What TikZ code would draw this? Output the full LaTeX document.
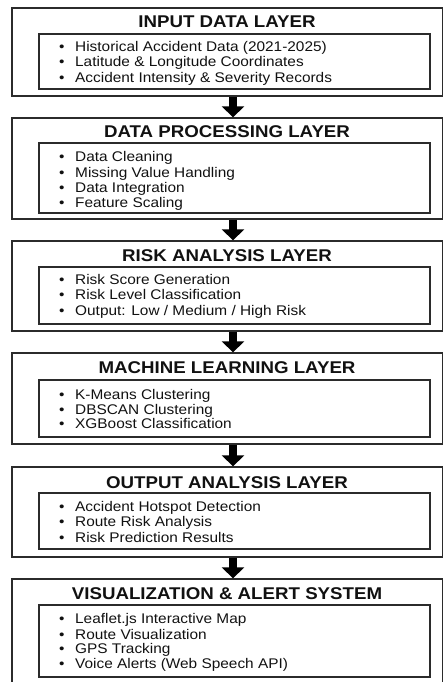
\documentclass[tikz,border=0pt]{standalone}
\usepackage{fontspec}
\setmainfont[FakeStretch=1.1]{Liberation Sans}
\usetikzlibrary{arrows.meta}
\definecolor{linegray}{HTML}{2B2B2B}
\definecolor{textblack}{HTML}{111111}
\tikzset{
  outerbox/.style={draw=linegray, line width=1.3pt, minimum width=431pt, inner sep=0pt},
  innerbox/.style={draw=linegray, line width=1.3pt, minimum width=391pt, inner sep=0pt},
  layertitle/.style={font=\bfseries\fontsize{17}{20}\selectfont, text=textblack, inner sep=0pt, anchor=base},
  item/.style={font=\fontsize{14}{16}\selectfont, text=textblack, inner sep=0pt, anchor=base west},
  flow/.style={-{Triangle[width=22pt,length=11pt]}, line width=8pt, draw=black}
}
\newcommand\bul[1]{\makebox[16pt][l]{\raisebox{0pt}{•}}#1}
\begin{document}
\begin{tikzpicture}[x=1pt,y=-1pt]
\useasboundingbox (0,0) rectangle (442,682);
% Box 1
\node[outerbox, minimum height=88pt] (o1) at (227.5,52) {};
\node[innerbox, minimum height=55pt] (n1) at (234.5,61.5) {};
\node[layertitle] (t1) at (227,28) {INPUT DATA LAYER};
\node[item] (i11) at (59,52) {\bul{Historical Accident Data (2021-2025)}};
\node[item] (i12) at (59,67) {\bul{Latitude \& Longitude Coordinates}};
\node[item] (i13) at (59,83) {\bul{Accident Intensity \& Severity Records}};
% Box 2
\node[outerbox, minimum height=101pt] (o2) at (227.5,168.5) {};
\node[innerbox, minimum height=70pt] (n2) at (234.5,178) {};
\node[layertitle] (t2) at (227,138) {DATA PROCESSING LAYER};
\node[item] (i21) at (59,161) {\bul{Data Cleaning}};
\node[item] (i22) at (59,177) {\bul{Missing Value Handling}};
\node[item] (i23) at (59,192) {\bul{Data Integration}};
\node[item] (i24) at (59,207) {\bul{Feature Scaling}};
% Box 3
\node[outerbox, minimum height=90pt] (o3) at (227.5,286) {};
\node[innerbox, minimum height=57pt] (n3) at (234.5,295.5) {};
\node[layertitle] (t3) at (227,261) {RISK ANALYSIS LAYER};
\node[item] (i31) at (59,284) {\bul{Risk Score Generation}};
\node[item] (i32) at (59,299) {\bul{Risk Level Classification}};
\node[item] (i33) at (59,315) {\bul{Output: Low / Medium / High Risk}};
% Box 4
\node[outerbox, minimum height=91pt] (o4) at (227.5,398.5) {};
\node[innerbox, minimum height=57pt] (n4) at (234.5,408.5) {};
\node[layertitle] (t4) at (227,373) {MACHINE LEARNING LAYER};
\node[item] (i41) at (59,399) {\bul{K-Means Clustering}};
\node[item] (i42) at (59,414) {\bul{DBSCAN Clustering}};
\node[item] (i43) at (59,428) {\bul{XGBoost Classification}};
% Box 5
\node[outerbox, minimum height=90pt] (o5) at (227.5,512) {};
\node[innerbox, minimum height=56pt] (n5) at (234.5,521) {};
\node[layertitle] (t5) at (227,488) {OUTPUT ANALYSIS LAYER};
\node[item] (i51) at (59,511) {\bul{Accident Hotspot Detection}};
\node[item] (i52) at (59,526) {\bul{Route Risk Analysis}};
\node[item] (i53) at (59,542) {\bul{Risk Prediction Results}};
% Box 6
\node[outerbox, minimum height=111pt] (o6) at (227.5,634.5) {};
\node[innerbox, minimum height=72pt] (n6) at (234.5,641) {};
\node[layertitle] (t6) at (227,599) {VISUALIZATION \& ALERT SYSTEM};
\node[item] (i61) at (59,623) {\bul{Leaflet.js Interactive Map}};
\node[item] (i62) at (59,639) {\bul{Route Visualization}};
\node[item] (i63) at (59,653) {\bul{GPS Tracking}};
\node[item] (i64) at (59,668) {\bul{Voice Alerts (Web Speech API)}};
% Arrows
\draw[flow] ([xshift=5.5pt]o1.south) -- ([xshift=5.5pt]o2.north);
\draw[flow] ([xshift=5.5pt]o2.south) -- ([xshift=5.5pt]o3.north);
\draw[flow] ([xshift=5.5pt]o3.south) -- ([xshift=5.5pt]o4.north);
\draw[flow] ([xshift=5.5pt]o4.south) -- ([xshift=5.5pt]o5.north);
\draw[flow] ([xshift=5.5pt]o5.south) -- ([xshift=5.5pt]o6.north);
\end{tikzpicture}
\end{document}
